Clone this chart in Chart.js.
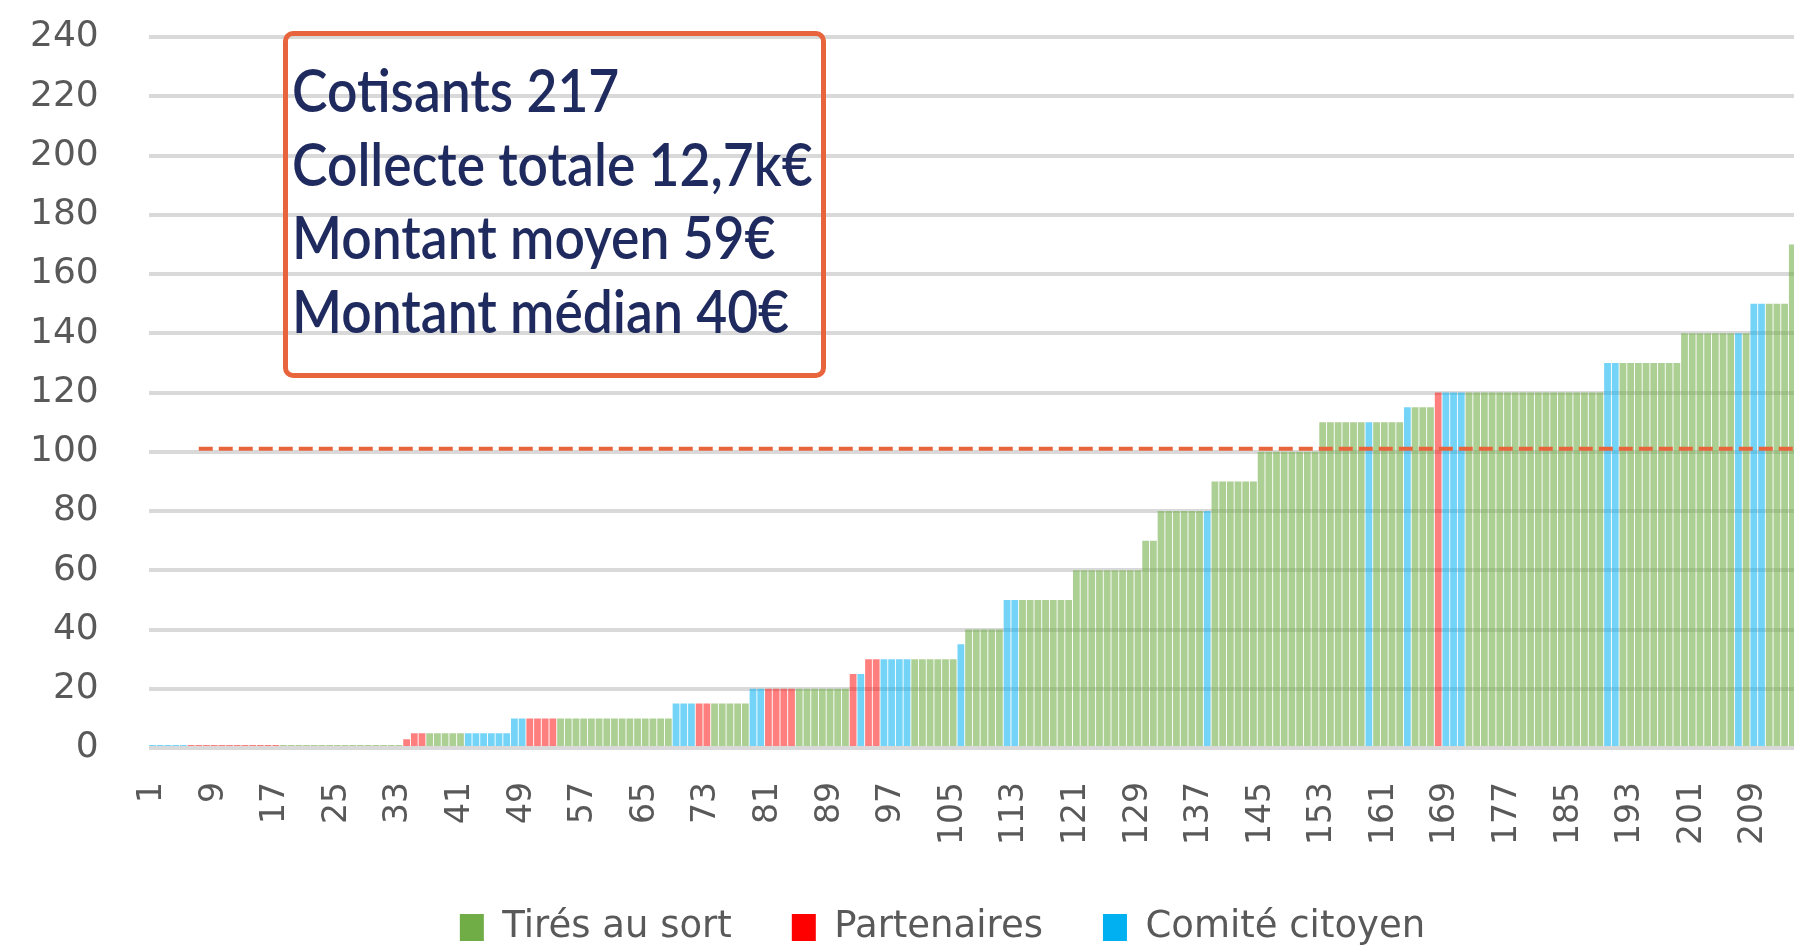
<!DOCTYPE html>
<html lang="fr">
<head>
<meta charset="utf-8">
<title>Cotisations</title>
<script src="https://cdn.jsdelivr.net/npm/chart.js@4.4.1/dist/chart.umd.min.js"></script>
<style>
  html, body { margin: 0; padding: 0; background: #fff; overflow: hidden; }
  #frame { position: relative; width: 1794px; height: 948px; overflow: hidden; }
  #wrap { position: absolute; left: 0; top: 0; width: 1859px; height: 948px; }
  #note {
    position: absolute; left: 283px; top: 31px; width: 543px; height: 347px;
    box-sizing: border-box; border: 5px solid #e8643c; border-radius: 10px;
  }
  #note .ln {
    position: absolute; left: 4px; white-space: nowrap;
    font-family: Lato, "Open Sans", sans-serif; font-weight: 600; font-size: 60px; line-height: 60px;
    color: #1f2a5e; transform-origin: 0 0; transform: scaleX(0.89);
  }
</style>
</head>
<body>
<div id="frame">
  <div id="wrap"><canvas id="chart"></canvas></div>
  <div id="note">
    <div class="ln" style="top:23px">Cotisants 217</div>
    <div class="ln" style="top:97px">Collecte totale 12,7k€</div>
    <div class="ln" style="top:170px">Montant moyen 59€</div>
    <div class="ln" style="top:244px">Montant médian 40€</div>
  </div>
</div>
<script>
// montant de chaque cotisation, triée par ordre croissant (1 barre = 1 cotisant)
const amounts = [
  1, 1, 1, 1, 1, 1, 1, 1, 1, 1,
  1, 1, 1, 1, 1, 1, 1, 1, 1, 1,
  1, 1, 1, 1, 1, 1, 1, 1, 1, 1,
  1, 1, 1, 3, 5, 5, 5, 5, 5, 5,
  5, 5, 5, 5, 5, 5, 5, 10, 10, 10,
  10, 10, 10, 10, 10, 10, 10, 10, 10, 10,
  10, 10, 10, 10, 10, 10, 10, 10, 15, 15,
  15, 15, 15, 15, 15, 15, 15, 15, 20, 20,
  20, 20, 20, 20, 20, 20, 20, 20, 20, 20,
  20, 25, 25, 30, 30, 30, 30, 30, 30, 30,
  30, 30, 30, 30, 30, 35, 40, 40, 40, 40,
  40, 50, 50, 50, 50, 50, 50, 50, 50, 50,
  60, 60, 60, 60, 60, 60, 60, 60, 60, 70,
  70, 80, 80, 80, 80, 80, 80, 80, 90, 90,
  90, 90, 90, 90, 100, 100, 100, 100, 100, 100,
  100, 100, 110, 110, 110, 110, 110, 110, 110, 110,
  110, 110, 110, 115, 115, 115, 115, 120, 120, 120,
  120, 120, 120, 120, 120, 120, 120, 120, 120, 120,
  120, 120, 120, 120, 120, 120, 120, 120, 120, 130,
  130, 130, 130, 130, 130, 130, 130, 130, 130, 140,
  140, 140, 140, 140, 140, 140, 140, 140, 150, 150,
  150, 150, 150, 170, 170, 200, 200,
];

// groupe de chaque cotisant : T = tirés au sort, P = partenaires, C = comité citoyen
const groups =
  "CCCCCPPPPP" + "PPPPPPPTTT" + "TTTTTTTTTT" + "TTTPPPTTTT" + "TCCCCCCCCP" +
  "PPPTTTTTTT" + "TTTTTTTTCC" + "CPPTTTTTCC" + "PPPPTTTTTT" + "TPCPPCCCCT" +
  "TTTTTCTTTT" + "TCCTTTTTTT" + "TTTTTTTTTT" + "TTTTTTTCTT" + "TTTTTTTTTT" +
  "TTTTTTTTCT" + "TTTCTTTPCC" + "CTTTTTTTTT" + "TTTTTTTTTC" + "CTTTTTTTTT" +
  "TTTTTTCTCC" + "TTTTTTT";

const seriesCodes = ["T", "P", "C"];
const seriesNames = ["Tirés au sort", "Partenaires", "Comité citoyen"];
const seriesColors = ["#70ad47", "#ff0000", "#00b0f0"];
const barColors = ["rgba(112,173,71,0.58)", "rgba(255,0,0,0.5)", "rgba(0,176,240,0.55)"];

// ligne pointillée de référence
const refValue = 101;
const refFrom = 7;

const labels = amounts.map((_, i) => String(i + 1));

const barSets = seriesCodes.map((code, s) => ({
  type: "bar",
  label: seriesNames[s],
  data: amounts.map((v, i) => (groups[i] === code ? v : null)),
  backgroundColor: barColors[s],
  borderWidth: 0,
  categoryPercentage: 1,
  barPercentage: 0.88,
  order: 2,
}));

const refSet = {
  type: "line",
  label: "ref",
  data: amounts.map((_, i) => (i + 1 >= refFrom ? refValue : null)),
  borderColor: "#e8643c",
  borderWidth: 4,
  borderDash: [14, 6],
  pointRadius: 0,
  fill: false,
  stack: "ref",
  order: 1,
};

const hidden = "rgba(0,0,0,0)";

new Chart(document.getElementById("chart"), {
  type: "bar",
  data: { labels, datasets: [...barSets, refSet] },
  options: {
    responsive: true,
    maintainAspectRatio: false,
    animation: false,
    layout: { padding: { left: 26, top: 37, right: 0, bottom: -8 } },
    plugins: {
      tooltip: { enabled: false },
      legend: {
        position: "bottom",
        labels: {
          boxWidth: 24,
          boxHeight: 27,
          padding: 60,
          color: "#595959",
          font: { family: "DejaVu Sans", size: 37 },
          generateLabels: (chart) =>
            Chart.defaults.plugins.legend.labels.generateLabels(chart)
              .filter((item) => item.datasetIndex < 3)
              .map((item) => ({
                ...item,
                fillStyle: seriesColors[item.datasetIndex],
                strokeStyle: seriesColors[item.datasetIndex],
                lineWidth: 0,
              })),
        },
      },
    },
    scales: {
      x: {
        stacked: true,
        grid: { display: false, drawTicks: true, tickLength: 30, tickColor: hidden },
        border: { display: false },
        ticks: {
          autoSkip: false,
          minRotation: 90,
          maxRotation: 90,
          padding: 4,
          color: "#595959",
          font: { family: "DejaVu Sans", size: 33 },
          callback: function (value, index) {
            return index % 8 === 0 ? this.getLabelForValue(value) : "";
          },
        },
      },
      y: {
        stacked: true,
        min: 0,
        max: 240,
        border: { display: false },
        grid: { color: "#d9d9d9", lineWidth: 4, drawTicks: true, tickLength: 46, tickColor: hidden },
        ticks: { stepSize: 20, padding: 4, color: "#595959", font: { family: "DejaVu Sans", size: 36 } },
      },
    },
  },
});
</script>
</body>
</html>
